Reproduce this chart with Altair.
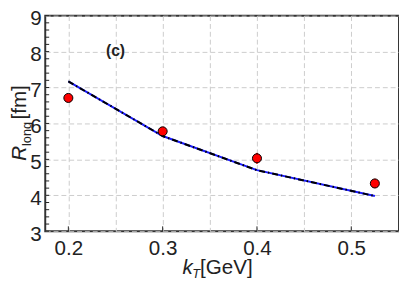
import altair as alt
import pandas as pd

# data
kt_pts = [0.2, 0.3, 0.4, 0.525]
r_pts = [6.71, 5.78, 5.03, 4.33]
r_err = [0.10, 0.10, 0.15, 0.13]

kt_line = [0.2, 0.3, 0.4, 0.525]
r_line = [7.17, 5.65, 4.70, 3.98]

y_minor = [round(3 + 0.2 * i, 1) for i in range(31)]
x_major = [0.2, 0.3, 0.4, 0.5]
x_grid = [0.2, 0.25, 0.3, 0.35, 0.4, 0.45, 0.5]
y_major = [3, 4, 5, 6, 7, 8, 9]

pts = pd.DataFrame({"kt": kt_pts, "r": r_pts,
                    "lo": [a - b for a, b in zip(r_pts, r_err)],
                    "hi": [a + b for a, b in zip(r_pts, r_err)]})
line = pd.DataFrame({"kt": kt_line, "r": r_line})

W, H = 361, 220
xs = alt.Scale(domain=[0.1755, 0.5506], nice=False, zero=False)
ys = alt.Scale(domain=[3, 9], nice=False, zero=False)

FONT = "Liberation Sans"

xax = alt.Axis(values=x_grid,
               labelExpr="indexof([20,30,40,50], round(datum.value*100)) >= 0 ? format(datum.value, '.1f') : ''",
               title=None, ticks=False, domain=False, grid=True, labelPadding=7, labelOverlap=False)
yax = alt.Axis(values=y_major, format="d", title=None, ticks=False, domain=False, grid=True,
               labelPadding=4, labelOverlap=False, labelOffset=3)

X = lambda f: alt.X(f, scale=xs, axis=xax)
Y = lambda f: alt.Y(f, scale=ys, axis=yax)

base = alt.Chart(line).mark_line(color="#1a1aff", strokeWidth=2).encode(x=X("kt:Q"), y=Y("r:Q"))
dash = alt.Chart(line).mark_line(color="black", strokeWidth=2, strokeDash=[6, 3, 1.5, 3]).encode(
    x=X("kt:Q"), y=Y("r:Q"))

err = alt.Chart(pts).mark_rule(color="red", strokeWidth=2).encode(
    x=X("kt:Q"), y=Y("lo:Q"), y2="hi:Q")
dots = alt.Chart(pts).mark_point(filled=True, fill="red", stroke="black", strokeWidth=1,
                                 size=85, shape="circle", opacity=1).encode(x=X("kt:Q"), y=Y("r:Q"))

yt = alt.Chart(pd.DataFrame({"v": y_minor})).mark_rule(color="#222", strokeWidth=1).encode(
    y=Y("v:Q"), x=alt.value(0), x2=alt.value(4))
xt = alt.Chart(pd.DataFrame({"v": x_major})).mark_rule(color="#222", strokeWidth=1).encode(
    x=X("v:Q"), y=alt.value(H), y2=alt.value(H - 5))

lab = alt.Chart(pd.DataFrame({"kt": [0.25], "r": [8.0], "t": ["(c)"]})).mark_text(
    font=FONT, fontWeight="bold", fontSize=16, color="#222", baseline="middle").encode(
    x=X("kt:Q"), y=Y("r:Q"), text="t:N")

def txt(t, x, y, size, italic=False, angle=0):
    m = alt.Chart(pd.DataFrame({"t": [t]})).mark_text(
        font=FONT, fontSize=size, fontStyle="italic" if italic else "normal",
        align="left", baseline="alphabetic", angle=angle, color="#222")
    return m.encode(text="t:N", x=alt.value(x), y=alt.value(y))

titles = [
    txt("k", 140, 264, 21, True),
    txt("T", 150, 268, 13, True),
    txt("[GeV]", 158, 264, 21),
    txt("R", -20, 148, 21, True, 270),
    txt("long", -15, 133, 13, False, 270),
    txt("[fm]", -20, 106, 21, False, 270),
]

chart = alt.layer(base, dash, err, dots, yt, xt, lab, *titles).properties(
    width=W, height=H,
    autosize=alt.AutoSizeParams(type="none"),
    padding={"left": 38, "top": 5, "right": 0, "bottom": 50},
).configure_view(stroke="#333333", strokeWidth=2).configure_axis(
    labelFont=FONT, labelFontSize=21, labelColor="#222",
    gridDash=[5, 3], gridColor="#cccccc", gridWidth=1)

chart.save("out.html", embed_options={"renderer": "svg", "actions": False})
